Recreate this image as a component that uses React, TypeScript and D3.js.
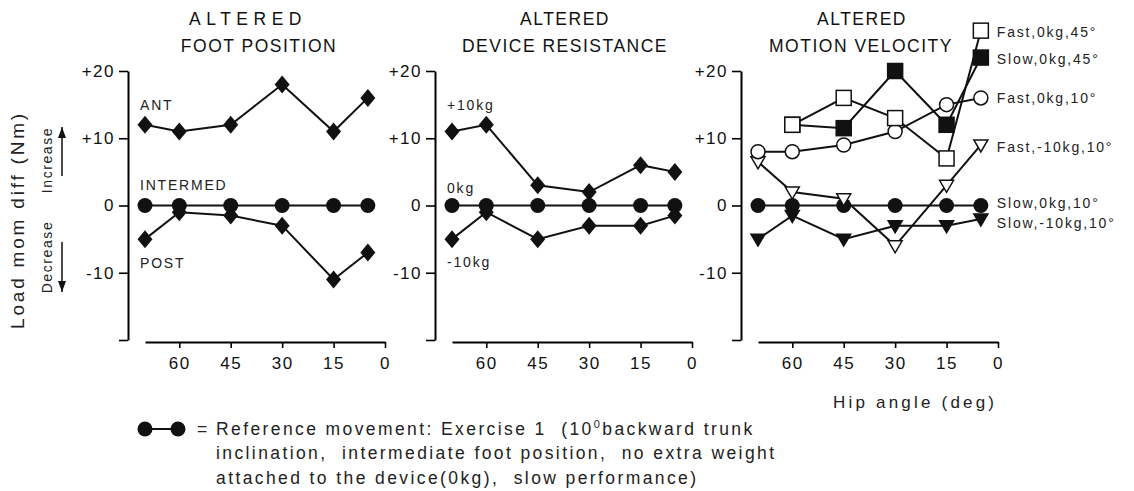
import React, { useEffect, useRef } from 'react';
import * as d3 from 'd3';

// hip angle (deg) at which each value was read
const angles = [70, 60, 45, 30, 15, 5];
const xTicks = [60, 45, 30, 15, 0];
const yTicks = [20, 10, 0, -10, -20];
const yTickLabels = ['+20', '+10', '0', '-10', ''];

// altered foot position
const footAnt = [12, 11, 12, 18, 11, 16];
const footIntermed = [0, 0, 0, 0, 0, 0];
const footPost = [-5, -1, -1.5, -3, -11, -7];

// altered device resistance
const resPlus10 = [11, 12, 3, 2, 6, 5];
const res0 = [0, 0, 0, 0, 0, 0];
const resMinus10 = [-5, -1, -5, -3, -3, -1.5];

// altered motion velocity
const fast0kg45 = [null, 12, 16, 13, 7, 26];
const slow0kg45 = [null, 12, 11.5, 20, 12, 22];
const fast0kg10 = [8, 8, 9, 11, 15, 16];
const fastM10kg10 = [6.5, 2, 1, -6, 3, 9];
const slow0kg10 = [0, 0, 0, 0, 0, 0];
const slowM10kg10 = [-5, -1.5, -5, -3, -3, -2];

type Marker = 'diamond' | 'dot' | 'circle' | 'square' | 'fsquare' | 'tri' | 'ftri';
type Series = { values: (number | null)[]; marker: Marker; label?: string; labelDy?: number };

const panels: {
  title: [string, string];
  titleX: [number, number];
  titleSpacing: number;
  origin: number;
  series: Series[];
  notes: { text: string; value: number }[];
}[] = [
  {
    title: ['ALTERED', 'FOOT POSITION'],
    titleX: [248, 259],
    titleSpacing: 5.5,
    origin: 385,
    series: [
      { values: footAnt, marker: 'diamond' },
      { values: footPost, marker: 'diamond' },
      { values: footIntermed, marker: 'dot' },
    ],
    notes: [
      { text: 'ANT', value: 15 },
      { text: 'INTERMED', value: 3 },
      { text: 'POST', value: -8.5 },
    ],
  },
  {
    title: ['ALTERED', 'DEVICE RESISTANCE'],
    titleX: [565, 565],
    titleSpacing: 1.5,
    origin: 692,
    series: [
      { values: resPlus10, marker: 'diamond' },
      { values: resMinus10, marker: 'diamond' },
      { values: res0, marker: 'dot' },
    ],
    notes: [
      { text: '+10kg', value: 15 },
      { text: '0kg', value: 2.6 },
      { text: '-10kg', value: -8.4 },
    ],
  },
  {
    title: ['ALTERED', 'MOTION VELOCITY'],
    titleX: [862, 861],
    titleSpacing: 1.5,
    origin: 998,
    series: [
      { values: slow0kg10, marker: 'dot', label: 'Slow,0kg,10°', labelDy: -3 },
      { values: slowM10kg10, marker: 'ftri', label: 'Slow,-10kg,10°', labelDy: 4 },
      { values: fastM10kg10, marker: 'tri', label: 'Fast,-10kg,10°', labelDy: 2 },
      { values: fast0kg10, marker: 'circle', label: 'Fast,0kg,10°', labelDy: 0 },
      { values: slow0kg45, marker: 'fsquare', label: 'Slow,0kg,45°', labelDy: 1 },
      { values: fast0kg45, marker: 'square', label: 'Fast,0kg,45°', labelDy: 1 },
    ],
    notes: [],
  },
];

const FONT = "'Liberation Sans', Arial, sans-serif";

export default function App() {
  const ref = useRef<SVGSVGElement>(null);

  useEffect(() => {
    const svg = d3.select(ref.current);
    svg.selectAll('*').remove();
    svg.attr('font-family', FONT).style('background', '#fff');

    const y = d3.scaleLinear().domain([-20, 20]).range([340, 71]);

    panels.forEach((p, pi) => {
      const x = d3.scaleLinear().domain([0, 70]).range([p.origin, p.origin - 240]);
      const axisX = p.origin - 257;
      const g = svg.append('g');

      // titles
      g.append('text')
        .attr('x', p.titleX[0]).attr('y', 25)
        .attr('text-anchor', 'middle').attr('font-size', 17.5).attr('letter-spacing', p.titleSpacing)
        .attr('fill', '#111')
        .text(p.title[0]);
      g.append('text')
        .attr('x', p.titleX[1]).attr('y', 52)
        .attr('text-anchor', 'middle').attr('font-size', 17.5).attr('letter-spacing', 1.5)
        .attr('fill', '#111')
        .text(p.title[1]);

      // y axis
      const ya = g.append('g').attr('transform', `translate(${axisX},0)`)
        .call(
          d3.axisLeft(y).tickValues(yTicks).tickSize(9).tickSizeOuter(0)
            .tickFormat((d, i) => yTickLabels[i])
        );
      ya.select('.domain').attr('stroke-width', 2);
      ya.selectAll('.tick line').attr('stroke-width', 1.6);
      ya.selectAll('.tick text')
        .attr('font-family', FONT).attr('font-size', 17).attr('letter-spacing', 1.5)
        .attr('fill', '#111').attr('x', -13);

      // x axis
      const xa = g.append('g').attr('transform', 'translate(0,342)')
        .call(d3.axisBottom(x).tickValues(xTicks).tickSize(6).tickSizeOuter(0));
      xa.select('.domain').attr('stroke-width', 2);
      xa.selectAll('.tick line').attr('stroke-width', 1.6);
      xa.selectAll('.tick text')
        .attr('font-family', FONT).attr('font-size', 17).attr('letter-spacing', 1.5)
        .attr('fill', '#111').attr('y', 15);

      // lines
      const line = d3.line<number | null>()
        .defined((d) => d != null)
        .x((d, i) => x(angles[i]))
        .y((d) => y(d as number));
      p.series.forEach((s) => {
        g.append('path').datum(s.values).attr('d', line)
          .attr('fill', 'none').attr('stroke', '#111').attr('stroke-width', 2);
      });

      // markers
      p.series.forEach((s) => {
        s.values.forEach((v, i) => {
          if (v == null) return;
          drawMarker(g, s.marker, x(angles[i]), y(v));
        });
        if (s.label) {
          const last = s.values[s.values.length - 1] as number;
          g.append('text')
            .attr('x', x(angles[angles.length - 1]) + 16)
            .attr('y', y(last) + (s.labelDy || 0))
            .attr('dy', '0.36em')
            .attr('font-size', 14).attr('letter-spacing', 1.8).attr('fill', '#222')
            .text(s.label);
        }
      });

      p.notes.forEach((n) => {
        g.append('text')
          .attr('x', axisX + 12).attr('y', y(n.value)).attr('dy', '0.36em')
          .attr('font-size', 14).attr('letter-spacing', 1.8).attr('fill', '#222')
          .text(n.text);
      });

      if (pi === panels.length - 1) {
        g.append('text')
          .attr('x', 833).attr('y', 408)
          .attr('font-size', 17).attr('letter-spacing', 3.2).attr('fill', '#222')
          .text('Hip angle (deg)');
      }
    });

    // y axis title and arrows
    svg.append('text')
      .attr('transform', 'translate(24,220) rotate(-90)')
      .attr('text-anchor', 'middle').attr('font-size', 19).attr('letter-spacing', 2.8)
      .attr('fill', '#222')
      .text('Load mom diff (Nm)');
    svg.append('text')
      .attr('transform', 'translate(52,160) rotate(-90)')
      .attr('text-anchor', 'middle').attr('font-size', 14).attr('letter-spacing', 1.6)
      .attr('fill', '#222')
      .text('Increase');
    svg.append('text')
      .attr('transform', 'translate(52,257) rotate(-90)')
      .attr('text-anchor', 'middle').attr('font-size', 14).attr('letter-spacing', 1.6)
      .attr('fill', '#222')
      .text('Decrease');
    const arrow = (y1: number, y2: number) => {
      svg.append('line').attr('x1', 62).attr('x2', 62).attr('y1', y1).attr('y2', y2)
        .attr('stroke', '#111').attr('stroke-width', 1.5);
      const dir = y2 < y1 ? 1 : -1;
      svg.append('path')
        .attr('d', `M62,${y2} L58,${y2 + dir * 11} L66,${y2 + dir * 11} Z`)
        .attr('fill', '#111');
    };
    arrow(176, 127);
    arrow(242, 292);

    // reference legend
    svg.append('line').attr('x1', 145).attr('x2', 178).attr('y1', 429).attr('y2', 429)
      .attr('stroke', '#111').attr('stroke-width', 2);
    drawMarker(svg, 'dot', 145, 429);
    drawMarker(svg, 'dot', 178, 429);
    svg.append('text').attr('x', 197).attr('y', 435)
      .attr('font-size', 17.5).attr('fill', '#222').text('=');
    const t1 = svg.append('text').attr('x', 216).attr('y', 435)
      .attr('font-size', 17.5).attr('letter-spacing', 2.4).attr('fill', '#222')
      .style('white-space', 'pre');
    t1.append('tspan').text('Reference movement: Exercise 1  (10');
    t1.append('tspan').attr('dy', -7).attr('font-size', 11).text('0');
    t1.append('tspan').attr('dy', 7).text('backward trunk');
    svg.append('text').attr('x', 216).attr('y', 459)
      .attr('font-size', 17.5).attr('letter-spacing', 2.4).attr('fill', '#222')
      .style('white-space', 'pre')
      .text('inclination,  intermediate foot position,  no extra weight');
    svg.append('text').attr('x', 216).attr('y', 484)
      .attr('font-size', 17.5).attr('letter-spacing', 2.4).attr('fill', '#222')
      .style('white-space', 'pre')
      .text('attached to the device(0kg),  slow performance)');
  }, []);

  return (
    <svg ref={ref} width={1134} height={491} style={{ position: 'absolute', left: 0, top: 0 }} />
  );
}

function drawMarker(g: any, m: Marker, cx: number, cy: number) {
  const ink = '#111';
  if (m === 'diamond') {
    g.append('path').attr('d', `M${cx},${cy - 9} L${cx + 7.5},${cy} L${cx},${cy + 9} L${cx - 7.5},${cy} Z`)
      .attr('fill', ink);
  } else if (m === 'dot') {
    g.append('circle').attr('cx', cx).attr('cy', cy).attr('r', 7.5).attr('fill', ink);
  } else if (m === 'circle') {
    g.append('circle').attr('cx', cx).attr('cy', cy).attr('r', 7)
      .attr('fill', '#fff').attr('stroke', ink).attr('stroke-width', 1.5);
  } else if (m === 'square' || m === 'fsquare') {
    g.append('rect').attr('x', cx - 7.5).attr('y', cy - 7.5).attr('width', 15).attr('height', 15)
      .attr('fill', m === 'square' ? '#fff' : ink).attr('stroke', ink).attr('stroke-width', 1.5);
  } else {
    g.append('path').attr('d', `M${cx - 7},${cy - 5} L${cx + 7},${cy - 5} L${cx},${cy + 7} Z`)
      .attr('fill', m === 'tri' ? '#fff' : ink).attr('stroke', ink).attr('stroke-width', 1.5);
  }
}
